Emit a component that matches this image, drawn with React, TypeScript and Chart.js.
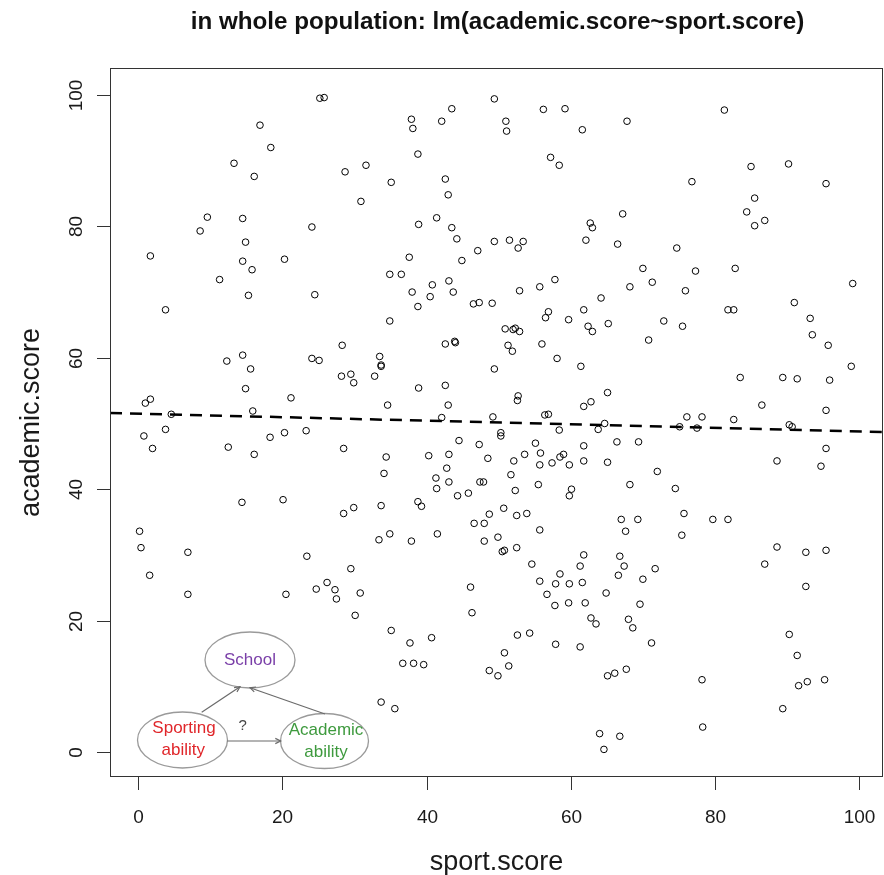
import React, { useEffect, useRef } from "react";
import { Chart, registerables } from "chart.js";

Chart.register(...registerables);

// sport.score values (x)
const sportScore: number[] = [
  25.2, 25.8, 16.9, 18.4, 13.3, 16.1, 28.7, 31.6, 30.9, 9.6, 14.5, 8.6, 24.1, 14.9, 1.7, 14.5, 15.8, 20.3, 11.3, 15.3, 24.5,
  49.4, 43.5, 37.9, 38.1, 42.1, 51.0, 51.1, 56.2, 59.2, 61.6, 67.8, 38.8, 57.2, 58.4, 35.1, 42.6, 43.0, 67.2, 38.9, 41.4,
  43.5, 44.2, 62.7, 63.0, 62.1, 66.5, 49.4, 51.5, 52.7, 53.4, 47.1, 44.9, 37.6, 34.9, 36.5, 40.8, 43.1, 38.0, 40.5, 43.7,
  52.9, 55.7, 57.8, 64.2, 68.2, 38.8, 46.5, 47.3, 49.1,
  81.3, 76.8, 85.0, 90.2, 95.4, 85.5, 84.4, 85.5, 86.9, 74.7, 70.0, 77.3, 82.8, 71.3, 75.9, 99.1, 91.0,
  3.8, 28.3, 12.3, 14.5, 15.6, 24.1, 25.1, 28.2, 29.5, 29.9, 14.9, 1.0, 1.7, 21.2, 15.9, 4.6, 3.8, 0.8, 2.0, 12.5, 16.1,
  18.3, 20.3, 23.3, 28.5, 14.4, 20.1, 28.5, 29.9, 0.2, 0.4,
  34.9, 56.9, 56.5, 61.8, 59.7, 62.4, 63.0, 65.2, 50.9, 52.0, 52.3, 52.9, 42.6, 43.9, 44.0, 51.3, 51.9, 56.0, 58.1, 61.4,
  33.5, 33.7, 33.7, 32.8, 49.4, 38.9, 42.6, 34.6, 43.0, 52.7, 52.6, 65.1, 61.8, 62.8, 42.1, 49.2, 56.4, 56.9, 64.7, 63.8,
  58.4, 50.3, 50.3, 44.5, 47.3, 55.1, 66.4, 61.8, 34.4, 40.3, 43.1, 48.5, 53.6, 55.8, 52.1, 59.0, 58.5, 57.4, 55.7, 59.8,
  61.8, 65.1, 34.1, 42.8, 51.7, 41.3, 43.1, 47.4, 47.9, 41.4, 55.5, 52.3, 60.1, 59.8, 68.2, 44.3, 45.8, 33.7, 38.8, 39.3,
  50.7, 48.7, 52.5, 53.9, 46.6, 48.0, 67.0, 67.6, 55.7, 33.4, 34.9, 37.9, 41.5, 48.0, 49.9,
  81.8, 82.6, 72.9, 75.5, 70.8, 93.2, 93.5, 95.7, 98.9, 83.5, 89.4, 91.4, 95.9, 86.5, 95.4, 76.1, 78.2, 82.6, 75.1, 77.5,
  90.3, 90.7, 69.4, 95.4, 88.6, 94.7, 72.0, 74.5, 75.7, 69.3, 79.7, 81.8, 75.4,
  6.9, 1.6, 6.9, 23.4, 29.5, 26.2, 24.7, 27.3, 27.5, 30.8, 20.5, 30.1,
  50.5, 50.8, 52.5, 54.6, 61.8, 61.3, 66.8, 67.4, 66.6, 58.5, 55.7, 57.9, 59.8, 61.6, 56.7, 57.8, 59.7, 62.0, 64.9, 62.8,
  63.5, 68.0, 68.6, 46.1, 46.3, 35.1, 37.7, 40.7, 36.7, 38.2, 39.6, 33.7, 35.6, 52.6, 54.3, 57.9, 61.3, 50.8, 51.4, 48.7,
  49.9, 65.1, 66.1, 67.7, 64.0, 66.8, 64.6,
  88.6, 92.6, 95.4, 86.9, 92.6, 71.7, 70.0, 69.6, 71.2, 78.2, 78.3, 90.3, 91.4, 92.8, 91.6, 95.2, 89.4,
];

// academic.score values (y)
const academicScore: number[] = [
  99.5, 99.6, 95.4, 92.0, 89.6, 87.6, 88.3, 89.3, 83.8, 81.4, 81.2, 79.3, 79.9, 77.6, 75.5, 74.7, 73.4, 75.0, 71.9, 69.5, 69.6,
  99.4, 97.9, 96.3, 94.9, 96.0, 96.0, 94.5, 97.8, 97.9, 94.7, 96.0, 91.0, 90.5, 89.3, 86.7, 87.2, 84.8, 81.9, 80.3, 81.3,
  79.8, 78.1, 80.5, 79.8, 77.9, 77.3, 77.7, 77.9, 76.7, 77.7, 76.3, 74.8, 75.3, 72.7, 72.7, 71.1, 71.7, 70.0, 69.3, 70.0,
  70.2, 70.8, 71.9, 69.1, 70.8, 67.8, 68.2, 68.4, 68.3,
  97.7, 86.8, 89.1, 89.5, 86.5, 84.3, 82.2, 80.1, 80.9, 76.7, 73.6, 73.2, 73.6, 71.5, 70.2, 71.3, 68.4,
  67.3, 61.9, 59.5, 60.4, 58.3, 59.9, 59.6, 57.2, 57.5, 56.2, 55.3, 53.1, 53.7, 53.9, 51.9, 51.4, 49.1, 48.1, 46.2, 46.4, 45.3,
  47.9, 48.6, 48.9, 46.2, 38.0, 38.4, 36.3, 37.2, 33.6, 31.1,
  65.6, 67.0, 66.1, 67.3, 65.8, 64.8, 64.0, 65.2, 64.4, 64.3, 64.5, 64.0, 62.1, 62.5, 62.3, 61.9, 61.0, 62.1, 59.9, 58.7,
  60.2, 58.9, 58.7, 57.2, 58.3, 55.4, 55.8, 52.8, 52.8, 54.2, 53.5, 54.7, 52.6, 53.3, 50.9, 51.0, 51.3, 51.4, 50.0, 49.1,
  49.0, 48.6, 48.1, 47.4, 46.8, 47.0, 47.2, 46.6, 44.9, 45.1, 45.3, 44.7, 45.3, 45.5, 44.3, 45.3, 44.9, 44.0, 43.7, 43.7,
  44.3, 44.1, 42.4, 43.2, 42.2, 41.7, 41.1, 41.1, 41.1, 40.1, 40.7, 39.8, 40.0, 39.0, 40.7, 39.0, 39.4, 37.5, 38.1, 37.4,
  37.1, 36.2, 36.0, 36.3, 34.8, 34.8, 35.4, 33.6, 33.8, 32.3, 33.2, 32.1, 33.2, 32.1, 32.7,
  67.3, 67.3, 65.6, 64.8, 62.7, 66.0, 63.5, 61.9, 58.7, 57.0, 57.0, 56.8, 56.6, 52.8, 52.0, 51.0, 51.0, 50.6, 49.5, 49.3,
  49.8, 49.5, 47.2, 46.2, 44.3, 43.5, 42.7, 40.1, 36.3, 35.4, 35.4, 35.4, 33.0,
  30.4, 26.9, 24.0, 29.8, 27.9, 25.8, 24.8, 24.7, 23.3, 24.2, 24.0, 20.8,
  30.5, 30.7, 31.1, 28.6, 30.0, 28.3, 29.8, 28.3, 26.9, 27.1, 26.0, 25.6, 25.6, 25.8, 24.0, 22.3, 22.7, 22.7, 24.2, 20.4,
  19.5, 20.2, 18.9, 25.1, 21.2, 18.5, 16.6, 17.4, 13.5, 13.5, 13.3, 7.6, 6.6, 17.8, 18.1, 16.4, 16.0, 15.1, 13.1, 12.4,
  11.6, 11.6, 12.0, 12.6, 2.8, 2.4, 0.4,
  31.2, 30.4, 30.7, 28.6, 25.2, 27.9, 26.3, 22.5, 16.6, 11.0, 3.8, 17.9, 14.7, 10.7, 10.1, 11.0, 6.6,
];

// fitted line lm(academic.score ~ sport.score)
const fitIntercept = 51.5;
const fitSlope = -0.027;

const xTicks: number[] = [0, 20, 40, 60, 80, 100];
const yTicks: number[] = [0, 20, 40, 60, 80, 100];
const xRange: number[] = [-3.9, 103.3];
const yRange: number[] = [-3.8, 104.1];

const titleText = "in whole population: lm(academic.score~sport.score)";
const xTitle = "sport.score";
const yTitle = "academic.score";

const FONT = '"Liberation Sans", Arial, Helvetica, sans-serif';

function arrow(ctx: CanvasRenderingContext2D, x1: number, y1: number, x2: number, y2: number) {
  ctx.beginPath();
  ctx.moveTo(x1, y1);
  ctx.lineTo(x2, y2);
  ctx.stroke();
  const a = Math.atan2(y2 - y1, x2 - x1);
  const h = 6;
  ctx.beginPath();
  ctx.moveTo(x2 - h * Math.cos(a - 0.45), y2 - h * Math.sin(a - 0.45));
  ctx.lineTo(x2, y2);
  ctx.lineTo(x2 - h * Math.cos(a + 0.45), y2 - h * Math.sin(a + 0.45));
  ctx.stroke();
}

const decorPlugin = {
  id: "decor",
  afterDraw(chart: any) {
    const { ctx, chartArea: ca, scales } = chart;
    const xs = scales.x;
    const ys = scales.y;
    ctx.save();
    // box
    ctx.strokeStyle = "#333";
    ctx.lineWidth = 1;
    ctx.strokeRect(ca.left + 0.5, ca.top + 0.5, ca.right - ca.left - 1, ca.bottom - ca.top - 1);

    // x ticks
    ctx.fillStyle = "#1a1a1a";
    ctx.font = `19px ${FONT}`;
    ctx.textAlign = "center";
    ctx.textBaseline = "alphabetic";
    xTicks.forEach((v) => {
      const px = Math.round(xs.getPixelForValue(v)) + 0.5;
      ctx.beginPath();
      ctx.moveTo(px, ca.bottom);
      ctx.lineTo(px, ca.bottom + 13);
      ctx.stroke();
      ctx.fillText(String(v), px, ca.bottom + 46);
    });
    // y ticks
    yTicks.forEach((v) => {
      const py = Math.round(ys.getPixelForValue(v)) + 0.5;
      ctx.beginPath();
      ctx.moveTo(ca.left, py);
      ctx.lineTo(ca.left - 13, py);
      ctx.stroke();
      ctx.save();
      ctx.translate(ca.left - 28, py);
      ctx.rotate(-Math.PI / 2);
      ctx.fillText(String(v), 0, 0);
      ctx.restore();
    });

    // axis titles
    ctx.font = `27px ${FONT}`;
    ctx.fillText(xTitle, (ca.left + ca.right) / 2, ca.bottom + 93);
    ctx.save();
    ctx.translate(ca.left - 71, (ca.top + ca.bottom) / 2);
    ctx.rotate(-Math.PI / 2);
    ctx.fillText(yTitle, 0, 0);
    ctx.restore();

    // main title
    ctx.font = `bold 24.2px ${FONT}`;
    ctx.fillStyle = "#111";
    ctx.fillText(titleText, (ca.left + ca.right) / 2 + 1, 29);

    // inset causal diagram
    const L = ca.left;
    const B = ca.bottom;
    const ell = (cx: number, cy: number, rx: number, ry: number) => {
      ctx.beginPath();
      ctx.ellipse(L + cx, B + cy, rx, ry, 0, 0, Math.PI * 2);
      ctx.fillStyle = "#fff";
      ctx.fill();
      ctx.strokeStyle = "#9a9a9a";
      ctx.lineWidth = 1.3;
      ctx.stroke();
    };
    ell(140, -117, 45, 28);
    ell(72.5, -37, 45, 28);
    ell(214.5, -36, 44, 27.5);

    ctx.strokeStyle = "#6a6a6a";
    ctx.lineWidth = 1.2;
    arrow(ctx, L + 91.7, B - 64.7, L + 130, B - 90.3);
    arrow(ctx, L + 215, B - 63, L + 140, B - 89.3);
    arrow(ctx, L + 117.3, B - 36, L + 170.7, B - 36);

    ctx.font = `17px ${FONT}`;
    ctx.textBaseline = "middle";
    ctx.fillStyle = "#7a3fa8";
    ctx.fillText("School", L + 140, B - 117);
    ctx.fillStyle = "#e0262a";
    ctx.fillText("Sporting", L + 74, B - 48.3);
    ctx.fillText("ability", L + 73.3, B - 26.5);
    ctx.fillStyle = "#3e9a3e";
    ctx.fillText("Academic", L + 216, B - 46.3);
    ctx.fillText("ability", L + 216, B - 24.7);
    ctx.fillStyle = "#444";
    ctx.font = `15px ${FONT}`;
    ctx.fillText("?", L + 132.7, B - 51);
    ctx.restore();
  },
};

export default function App() {
  const ref = useRef<HTMLCanvasElement | null>(null);
  useEffect(() => {
    document.body.style.margin = "0";
    if (!ref.current) return;
    const points = sportScore.map((x, i) => ({ x, y: academicScore[i] }));
    const fit = [xRange[0], xRange[1]].map((x) => ({ x, y: fitIntercept + fitSlope * x }));
    const chart = new Chart(ref.current, {
      type: "scatter",
      data: {
        datasets: [
          {
            label: "points",
            data: points,
            pointStyle: "circle",
            pointRadius: 3.3,
            pointBorderWidth: 1,
            pointBackgroundColor: "rgba(0,0,0,0)",
            pointBorderColor: "#000",
          } as any,
          {
            type: "line",
            label: "fit",
            data: fit,
            borderColor: "#000",
            borderWidth: 2.5,
            borderDash: [12, 8],
            pointRadius: 0,
            showLine: true,
            fill: false,
          } as any,
        ],
      },
      options: {
        responsive: false,
        animation: false,
        layout: { autoPadding: false, padding: { left: 110, top: 68, right: 1, bottom: 98 } },
        plugins: { legend: { display: false }, title: { display: false }, tooltip: { enabled: false } },
        events: [],
        scales: {
          x: { type: "linear", min: xRange[0], max: xRange[1], display: false },
          y: { type: "linear", min: yRange[0], max: yRange[1], display: false },
        },
      },
      plugins: [decorPlugin],
    });
    return () => chart.destroy();
  }, []);
  return (
    <div style={{ width: 884, height: 875, background: "#fff" }}>
      <canvas ref={ref} width={884} height={875} />
    </div>
  );
}
